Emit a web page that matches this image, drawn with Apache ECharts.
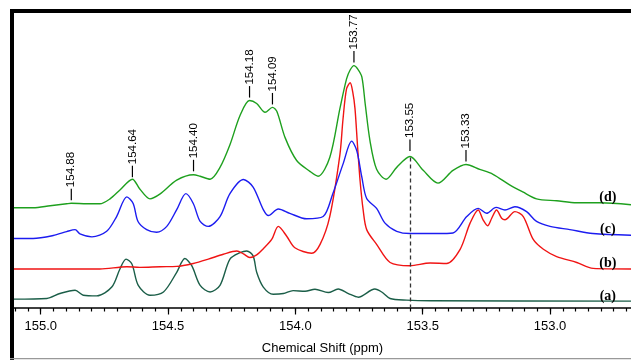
<!DOCTYPE html>
<html>
<head>
<meta charset="utf-8">
<script src="https://cdn.jsdelivr.net/npm/echarts@6/dist/echarts.min.js"></script>
<style>
  html, body { margin: 0; padding: 0; background: #fff; }
  #chart { width: 631px; height: 360px; }
</style>
</head>
<body>
<div id="chart"></div>
<script>
// x range of the plot (ppm), axis is reversed
var xMin = 152.682, xMax = 155.105;
var majorTicks = [155.0, 154.5, 154.0, 153.5, 153.0];

// traces, [ppm, intensity]
var traceA = [
    [155.105, 9], [154.976, 9.7], [154.925, 14.7], [154.865, 18], [154.833, 13], [154.78, 12.3],
    [154.721, 21.3], [154.689, 39.7], [154.665, 49.7], [154.642, 44.7], [154.617, 23], [154.571, 13],
    [154.518, 16.3], [154.466, 36.3], [154.434, 50.3], [154.407, 43], [154.374, 23], [154.335, 16.3],
    [154.296, 23], [154.257, 49.7], [154.217, 56.3], [154.191, 58], [154.166, 53], [154.152, 36.3],
    [154.126, 21.3], [154.087, 14], [154.047, 14.7], [154.009, 17.7], [153.962, 17], [153.923, 19],
    [153.871, 15.7], [153.832, 19.3], [153.792, 14.7], [153.753, 11], [153.688, 19.3], [153.661, 16.3],
    [153.628, 9.7], [153.563, 8], [153.471, 7.3], [152.682, 7]
];
var traceB = [
    [155.105, 39.7], [154.768, 39.7], [154.662, 42], [154.611, 41.3], [154.531, 42], [154.466, 42.3],
    [154.401, 45.3], [154.342, 49.7], [154.283, 54.7], [154.23, 58], [154.204, 55], [154.179, 51.3],
    [154.152, 54], [154.126, 60.3], [154.093, 69.7], [154.067, 83], [154.034, 73], [154.002, 61.3],
    [153.936, 55.7], [153.903, 64.7], [153.865, 93], [153.825, 156.3], [153.813, 192], [153.799, 223],
    [153.785, 229], [153.775, 220], [153.766, 203], [153.756, 165], [153.746, 129.7], [153.734, 100],
    [153.72, 79.7], [153.681, 64.7], [153.628, 46.3], [153.55, 43], [153.471, 45.7], [153.406, 45.3],
    [153.353, 59.7], [153.314, 86.3], [153.282, 99.7], [153.263, 89.7], [153.245, 83.7], [153.229, 91.3],
    [153.21, 99.7], [153.19, 91.3], [153.177, 89.7], [153.138, 98], [153.105, 93], [153.066, 69.7],
    [153.026, 59.7], [152.974, 52.3], [152.895, 46.3], [152.831, 40.3], [152.682, 39.7]
];
var traceC = [
    [155.105, 70.7], [155.03, 70.7], [154.951, 73.7], [154.898, 77.7], [154.865, 79.7], [154.846, 75.3],
    [154.799, 72.3], [154.741, 78], [154.702, 93], [154.662, 113], [154.637, 106.3], [154.618, 88],
    [154.584, 79.7], [154.545, 77], [154.505, 83], [154.466, 100], [154.43, 116.3], [154.401, 106.3],
    [154.374, 88], [154.342, 83], [154.296, 93], [154.257, 116.3], [154.204, 130.7], [154.166, 123],
    [154.126, 100], [154.106, 94], [154.067, 100.7], [154.022, 96.3], [153.956, 90.7], [153.891, 93],
    [153.853, 116.3], [153.813, 146.3], [153.779, 169.7], [153.759, 160], [153.739, 133], [153.72, 111.3],
    [153.681, 101.3], [153.648, 86.3], [153.602, 78], [153.55, 75.7], [153.445, 75.7], [153.381, 76.3],
    [153.327, 93], [153.282, 101.3], [153.249, 96.3], [153.212, 102.3], [153.177, 99.7], [153.138, 103],
    [153.092, 98], [153.053, 88], [153.0, 83], [152.922, 79.7], [152.832, 75.7], [152.682, 74]
];
var traceD = [
    [155.105, 102], [155.03, 102], [154.963, 104], [154.898, 106], [154.88, 106.5], [154.819, 106],
    [154.768, 106], [154.728, 111], [154.689, 120], [154.64, 131], [154.611, 121], [154.571, 111],
    [154.531, 116], [154.466, 130], [154.4, 135.5], [154.374, 134], [154.335, 131], [154.296, 143],
    [154.257, 166], [154.217, 196], [154.18, 211], [154.152, 208], [154.119, 199], [154.09, 204],
    [154.073, 200], [154.04, 173], [153.995, 150], [153.943, 139], [153.911, 134], [153.865, 153],
    [153.825, 203], [153.799, 233], [153.785, 242], [153.77, 246.5], [153.755, 243], [153.739, 235],
    [153.726, 208], [153.707, 170], [153.681, 141],
    [153.644, 131], [153.602, 143], [153.55, 154], [153.498, 140], [153.44, 127], [153.381, 140],
    [153.33, 146], [153.276, 141], [153.224, 136], [153.157, 125], [153.107, 118], [153.053, 111],
    [152.974, 109], [152.895, 107], [152.804, 107], [152.682, 105]
];

// peak annotations on trace (d)
var peakPpm = [154.88, 154.64, 154.40, 154.18, 154.09, 153.77, 153.55, 153.33];
var peakMarkHeight = [109.7, 133, 139, 214, 207, 249.7, 159.7, 149];
var dashedPpm = 153.55, dashedTop = 153;

// trace names at the right end
var tagNames = ['(a)', '(b)', '(c)', '(d)'];
var tagHeights = [11.5, 45, 79.5, 112];
var tagPpm = 152.773;

var colors = ['#1b5e48', '#f01414', '#1c1cf0', '#1ea01e'];

var minorTicks = [];
for (var k = Math.ceil(xMin * 20); k <= Math.floor(xMax * 20); k++) {
    minorTicks.push(k / 20);
}

var myChart = echarts.init(document.getElementById('chart'));

function lineSeries(name, data, color) {
    return {
        name: name,
        type: 'line',
        data: data,
        smooth: 0.3,
        showSymbol: false,
        silent: true,
        lineStyle: {color: color, width: 1.4},
        z: 3
    };
}

var seriesD = lineSeries('(d)', traceD, colors[3]);
seriesD.markLine = {
    silent: true,
    symbol: 'none',
    label: {show: false},
    lineStyle: {color: '#333', type: [4, 3], width: 1.3},
    data: [[{coord: [dashedPpm, dashedTop]}, {coord: [dashedPpm, 0]}]]
};

var option = {
    animation: false,
    textStyle: {fontFamily: 'Liberation Sans'},
    grid: {left: 14, right: 0, top: 13, bottom: 47},
    xAxis: [{
        type: 'value',
        inverse: true,
        min: xMin,
        max: xMax,
        position: 'bottom',
        axisLine: {lineStyle: {color: '#000', width: 1.6}},
        axisTick: {customValues: minorTicks, length: 3.5, lineStyle: {color: '#000', width: 1.2}},
        axisLabel: {show: false},
        splitLine: {show: false}
    }, {
        type: 'value',
        inverse: true,
        min: xMin,
        max: xMax,
        position: 'bottom',
        axisLine: {show: false},
        axisTick: {customValues: majorTicks, length: 6.5, lineStyle: {color: '#000', width: 1.2}},
        axisLabel: {
            customValues: majorTicks,
            formatter: function (v) { return v.toFixed(1); },
            fontSize: 13,
            color: '#000',
            margin: 12
        },
        name: 'Chemical Shift (ppm)',
        nameLocation: 'middle',
        nameGap: 34,
        nameTextStyle: {fontSize: 13, color: '#000'},
        splitLine: {show: false}
    }],
    yAxis: {type: 'value', min: 0, max: 300, show: false},
    graphic: [
        {type: 'rect', shape: {x: 10, y: 9, width: 4, height: 351}, style: {fill: '#000'}, z: 10},
        {type: 'rect', shape: {x: 10, y: 9, width: 621, height: 4}, style: {fill: '#000'}, z: 10},
        {type: 'rect', shape: {x: 10, y: 358, width: 621, height: 1.2}, style: {fill: '#999'}, z: 10}
    ],
    series: [
        lineSeries('(a)', traceA, colors[0]),
        lineSeries('(b)', traceB, colors[1]),
        lineSeries('(c)', traceC, colors[2]),
        seriesD,
        {
            type: 'custom',
            silent: true,
            data: peakPpm.map(function (p, i) { return [p, peakMarkHeight[i]]; }),
            renderItem: function (params, api) {
                var pt = api.coord([api.value(0), api.value(1)]);
                return {
                    type: 'group',
                    children: [{
                        type: 'line',
                        shape: {x1: pt[0], y1: pt[1], x2: pt[0], y2: pt[1] - 11.5},
                        style: {stroke: '#000', lineWidth: 1.2}
                    }, {
                        type: 'text',
                        x: pt[0],
                        y: pt[1] - 13,
                        rotation: Math.PI / 2,
                        style: {
                            text: api.value(0).toFixed(2),
                            fontSize: 11.5,
                            fontFamily: 'Liberation Sans',
                            fill: '#000',
                            align: 'left',
                            verticalAlign: 'middle'
                        }
                    }]
                };
            },
            z: 5
        },
        {
            type: 'custom',
            silent: true,
            data: tagNames.map(function (t, i) { return [tagPpm, tagHeights[i]]; }),
            renderItem: function (params, api) {
                var pt = api.coord([api.value(0), api.value(1)]);
                return {
                    type: 'text',
                    x: pt[0],
                    y: pt[1],
                    style: {
                        text: tagNames[params.dataIndex],
                        fontSize: 14,
                        fontWeight: 'bold',
                        fontFamily: 'Liberation Serif',
                        fill: '#000',
                        align: 'center',
                        verticalAlign: 'middle'
                    }
                };
            },
            z: 5
        }
    ]
};

myChart.setOption(option);
window.addEventListener('resize', function () {
    myChart.resize();
});
</script>
</body>
</html>
